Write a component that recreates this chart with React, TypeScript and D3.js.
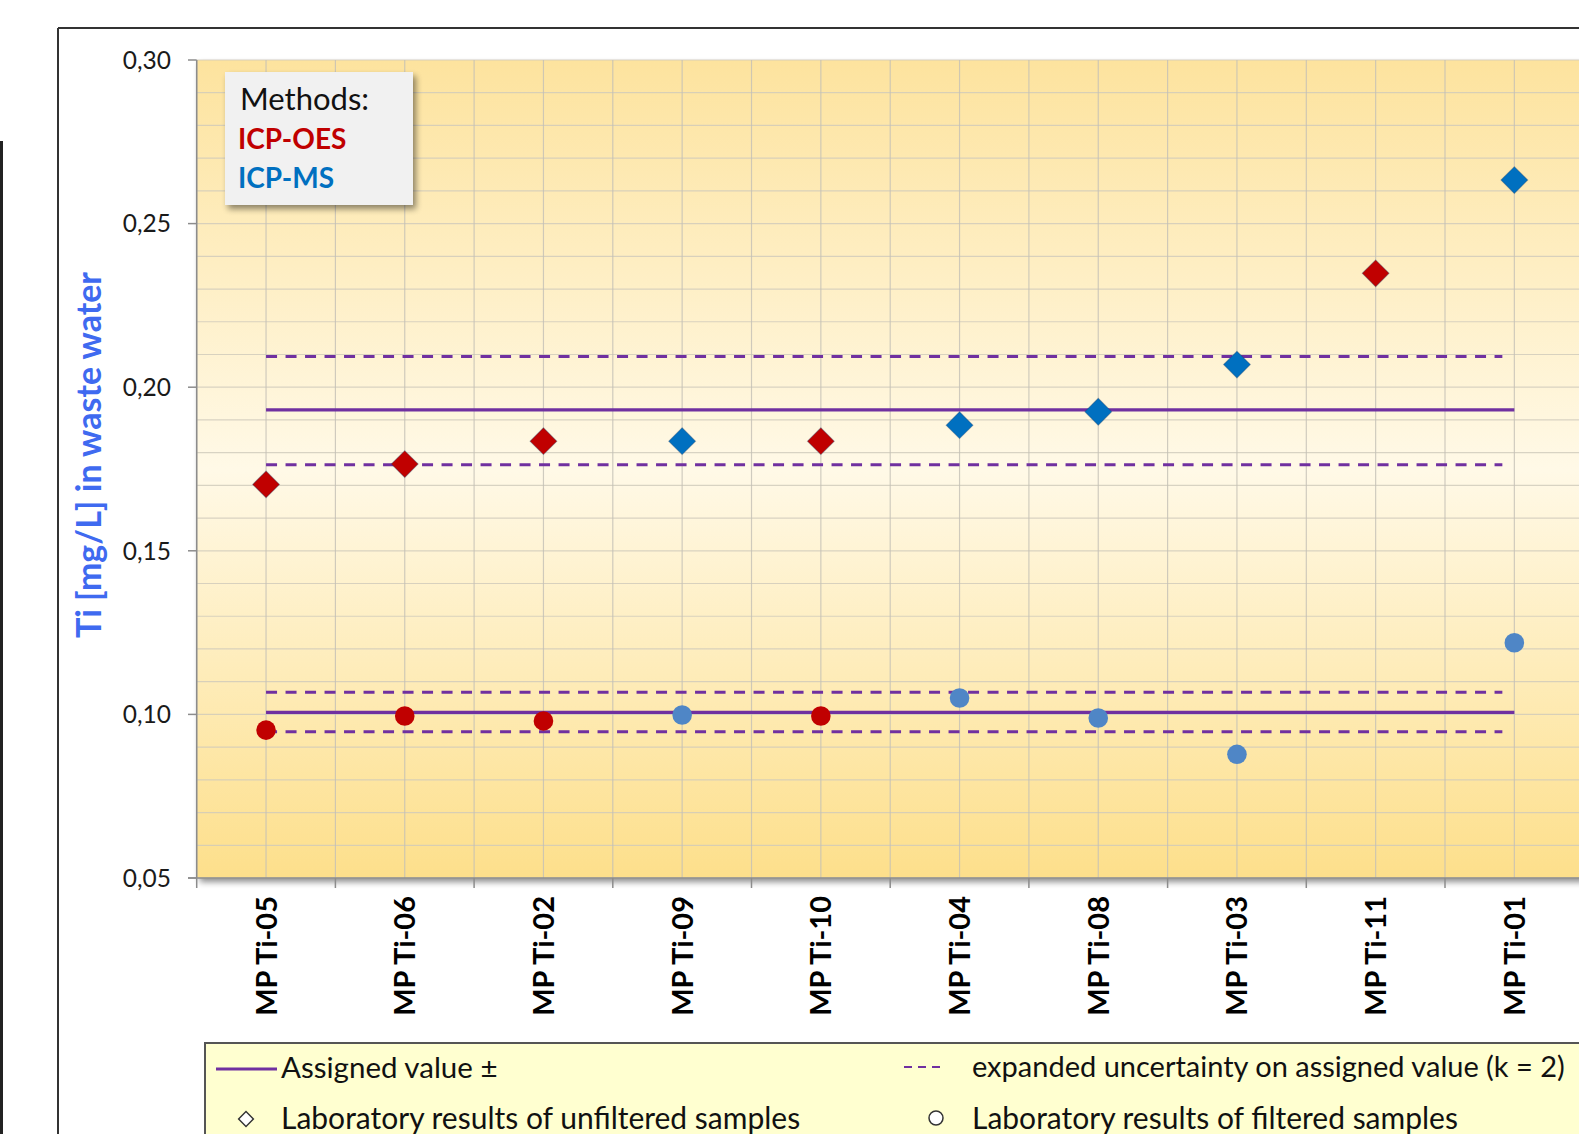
import React from "react";
import * as d3 from "d3";

const categories = ["MP Ti-05", "MP Ti-06", "MP Ti-02", "MP Ti-09", "MP Ti-10", "MP Ti-04", "MP Ti-08", "MP Ti-03", "MP Ti-11", "MP Ti-01"];
const methods = ["OES", "OES", "OES", "MS", "OES", "MS", "MS", "MS", "OES", "MS"];
const unfiltered = [0.1703, 0.1765, 0.1835, 0.1835, 0.1835, 0.1884, 0.1925, 0.2069, 0.2348, 0.2633];
const filtered: (number | null)[] = [0.0952, 0.0995, 0.098, 0.0998, 0.0995, 0.105, 0.0989, 0.0878, null, 0.1219];
const assignedUnfiltered = [0.1763, 0.1931, 0.2094];
const assignedFiltered = [0.0947, 0.1006, 0.1068];
const yTicks = [0.05, 0.1, 0.15, 0.2, 0.25, 0.3];

const W = 1579, H = 1134;
const L = 196.7, T = 60, R = 1583.7, B = 878;
const FONT = "Lato, 'Open Sans', sans-serif";
const PURPLE = "#7030a0";
const diamondColor = (m: string) => (m === "OES" ? "#c00000" : "#0070c0");
const circleColor = (m: string) => (m === "OES" ? "#c00000" : "#4f86c6");

export default function App() {
  const x = d3.scaleBand<string>().domain(categories).range([L, R]).padding(0);
  const y = d3.scaleLinear().domain([0.05, 0.3]).range([B, T]);
  const bw = x.bandwidth();
  const cx = (c: string) => (x(c) as number) + bw / 2;
  const minorY = d3.range(0.05, 0.3001, 0.01);
  const vLines: number[] = [];
  categories.forEach((c) => { vLines.push(x(c) as number); vLines.push(cx(c)); });
  const x0 = cx(categories[0]);
  const x1 = cx(categories[categories.length - 1]);
  const diamond = d3.symbol().type(d3.symbolSquare).size(19 * 19)();

  return (
    <svg width={W} height={H} style={{ position: "absolute", left: 0, top: 0, background: "#fff" }} fontFamily={FONT}>
      <defs>
        <linearGradient id="bg" x1="0" y1="0" x2="0" y2="1">
          <stop offset="0" stopColor="#fde39e" />
          <stop offset="0.5" stopColor="#fff9e7" />
          <stop offset="1" stopColor="#fddf8b" />
        </linearGradient>
        <filter id="sh" x="-5%" y="-5%" width="115%" height="120%">
          <feGaussianBlur in="SourceAlpha" stdDeviation="3" />
          <feOffset dx="3" dy="4" result="b" />
          <feComponentTransfer><feFuncA type="linear" slope="0.45" /></feComponentTransfer>
          <feMerge><feMergeNode /><feMergeNode in="SourceGraphic" /></feMerge>
        </filter>
      </defs>
      {/* page edge */}
      <rect x={0} y={141} width={3} height={H - 141} fill="#222" />
      {/* chart frame */}
      <line x1={58} y1={28} x2={W} y2={28} stroke="#333" strokeWidth={2} />
      <line x1={58} y1={28} x2={58} y2={H} stroke="#333" strokeWidth={2} />
      {/* plot area */}
      <rect x={L} y={T} width={R - L} height={B - T} fill="url(#bg)" filter="url(#sh)" />
      {minorY.map((v, i) => (
        <line key={"h" + i} x1={L} x2={R} y1={y(v)} y2={y(v)} stroke="#cfcabb" strokeWidth={1.2} opacity={0.8} />
      ))}
      {vLines.map((v, i) => (
        <line key={"v" + i} x1={v} x2={v} y1={T} y2={B} stroke="#c4c0b6" strokeWidth={1.2} opacity={0.8} />
      ))}
      {/* axes */}
      <line x1={L} x2={L} y1={T} y2={B + 10} stroke="#8c8c8c" strokeWidth={1.5} />
      <line x1={188} x2={R} y1={B} y2={B} stroke="#8c8c8c" strokeWidth={1.5} />
      {yTicks.map((v) => (
        <g key={"yt" + v}>
          <line x1={188} x2={L} y1={y(v)} y2={y(v)} stroke="#8c8c8c" strokeWidth={1.5} />
          <text x={171} y={y(v)} dy="0.36em" textAnchor="end" fontSize={24.5} fill="#1a1a1a">
            {d3.format(".2f")(v).replace(".", ",")}
          </text>
        </g>
      ))}
      {categories.map((c, i) => (
        <line key={"xt" + i} x1={(x(c) as number) + bw} x2={(x(c) as number) + bw} y1={B} y2={B + 10} stroke="#8c8c8c" strokeWidth={1.5} />
      ))}
      {categories.map((c) => (
        <text key={"xl" + c} transform={`translate(${cx(c)},896) rotate(-90)`} textAnchor="end" dy="0.36em" fontSize={29} fontWeight={700} fill="#000">
          {c}
        </text>
      ))}
      <text transform={`translate(89,455) rotate(-90)`} textAnchor="middle" dy="0.36em" fontSize={34} fontWeight={700} fill="#3f6af0">
        Ti [mg/L] in waste water
      </text>
      {/* assigned value lines */}
      {[assignedUnfiltered, assignedFiltered].map((a, k) => (
        <g key={"a" + k}>
          <line x1={x0} x2={x1 - 12} y1={y(a[0])} y2={y(a[0])} stroke={PURPLE} strokeWidth={3} strokeDasharray="11 8.5" />
          <line x1={x0} x2={x1 - 12} y1={y(a[2])} y2={y(a[2])} stroke={PURPLE} strokeWidth={3} strokeDasharray="11 8.5" />
          <line x1={x0} x2={x1} y1={y(a[1])} y2={y(a[1])} stroke={PURPLE} strokeWidth={3.3} />
        </g>
      ))}
      {/* points */}
      {categories.map((c, i) => (
        <path key={"d" + c} d={diamond as string} transform={`translate(${cx(c)},${y(unfiltered[i])}) rotate(45)`} fill={diamondColor(methods[i])} stroke="#1d3f66" strokeOpacity={0.35} strokeWidth={1} />
      ))}
      {categories.map((c, i) =>
        filtered[i] == null ? null : (
          <circle key={"c" + c} cx={cx(c)} cy={y(filtered[i] as number)} r={9.8} fill={circleColor(methods[i])} />
        )
      )}
      {/* methods box */}
      <rect x={225} y={72} width={188} height={133} fill="#f1f1f1" filter="url(#sh)" />
      <text x={240} y={110} fontSize={31} fill="#111">Methods:</text>
      <text x={238} y={149} fontSize={28} fontWeight={700} fill="#c00000">ICP-OES</text>
      <text x={238} y={188} fontSize={28} fontWeight={700} fill="#0070c0">ICP-MS</text>
      {/* bottom legend */}
      <rect x={205} y={1043} width={W} height={200} fill="#ffffd0" stroke="#555" strokeWidth={2} />
      <line x1={216} x2={277} y1={1069} y2={1069} stroke={PURPLE} strokeWidth={3} />
      <text x={281} y={1078} fontSize={29.5} fill="#111">Assigned value ±</text>
      <path d={diamond as string} transform={`translate(246,1119) rotate(45) scale(0.55)`} fill="#fff" stroke="#333" strokeWidth={2.6} />
      <text x={281} y={1129} fontSize={30} fill="#111">Laboratory results of unfiltered samples</text>
      <line x1={904} x2={944} y1={1067} y2={1067} stroke={PURPLE} strokeWidth={2} strokeDasharray="8 6" />
      <text x={972} y={1077} fontSize={29} fill="#111">expanded uncertainty on assigned value (k = 2)</text>
      <circle cx={936} cy={1118} r={7} fill="#fff" stroke="#333" strokeWidth={1.5} />
      <text x={972} y={1129} fontSize={30} fill="#111">Laboratory results of filtered samples</text>
    </svg>
  );
}
